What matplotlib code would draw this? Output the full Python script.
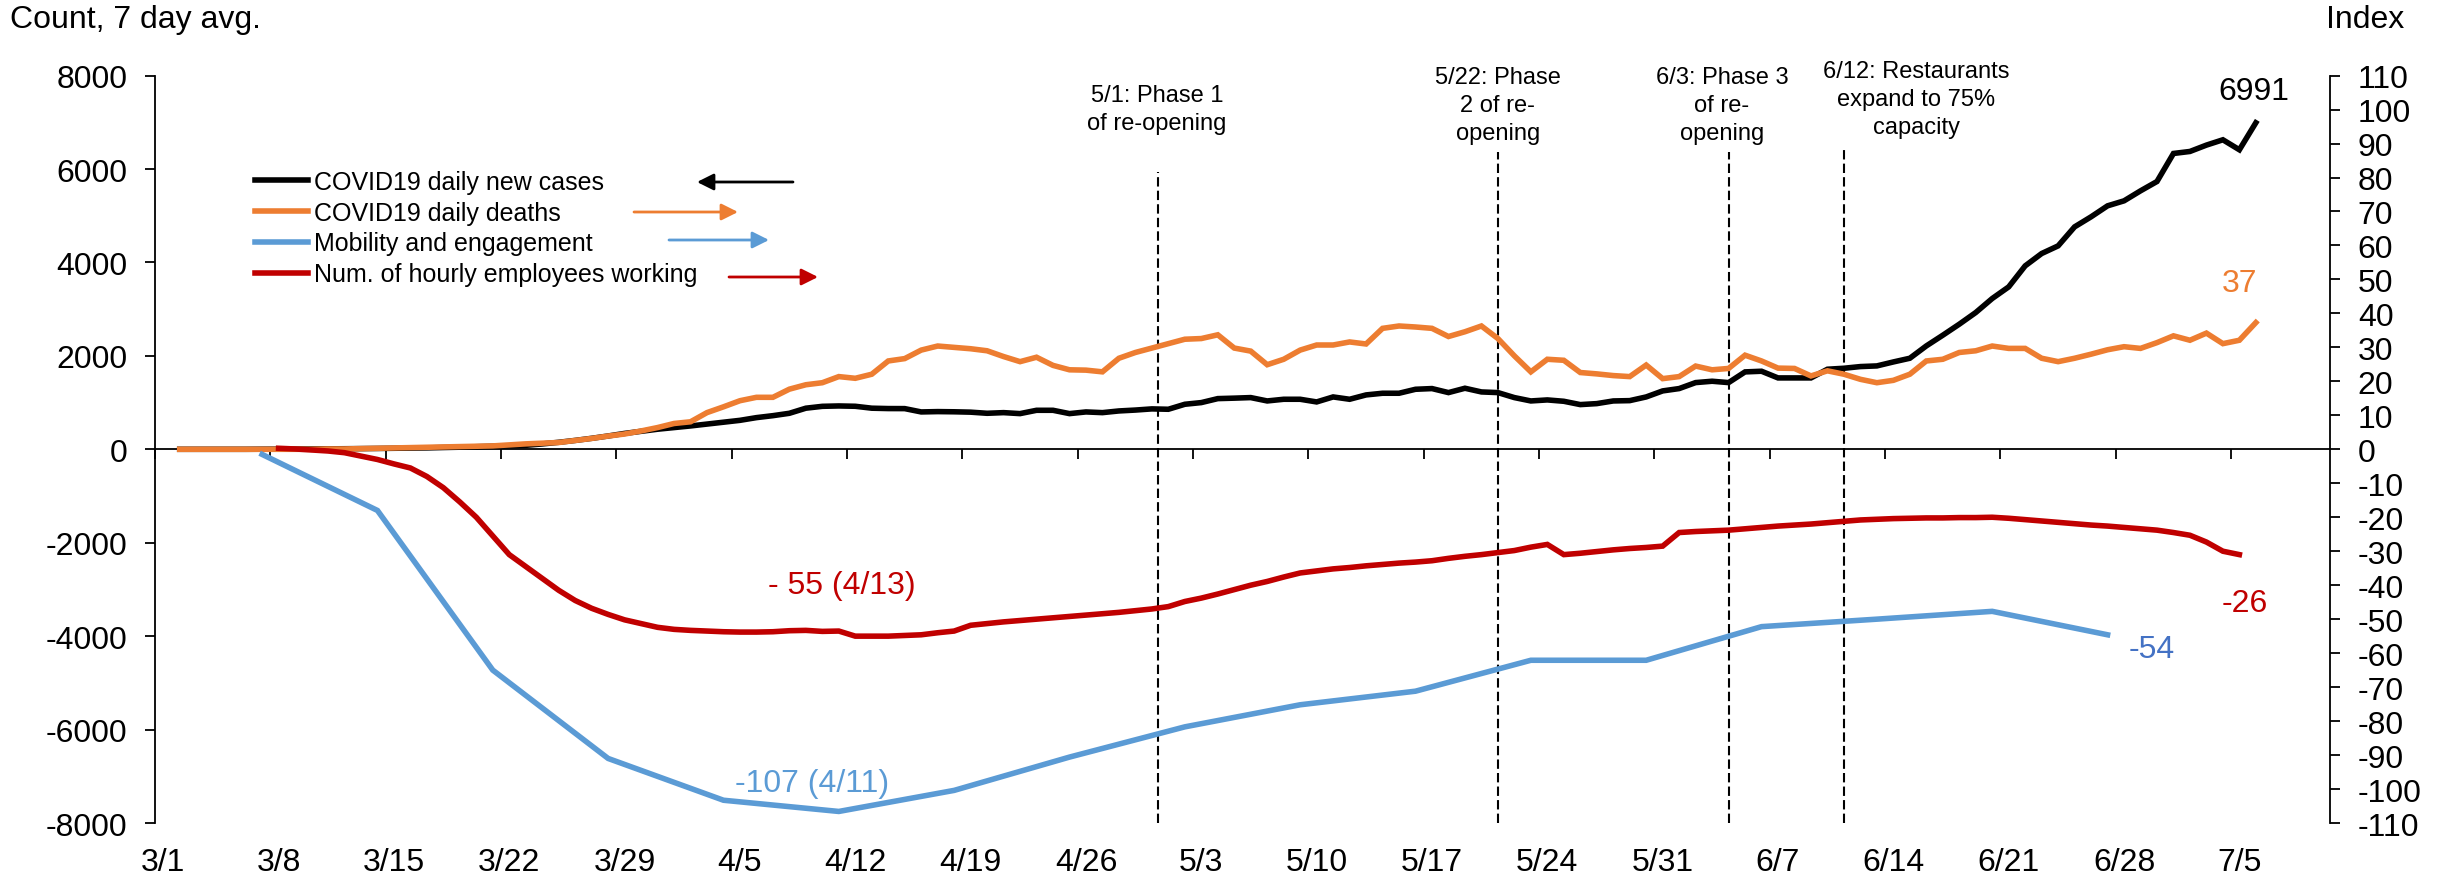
import numpy as np
import pandas as pd
import matplotlib
matplotlib.use("Agg")
import matplotlib.pyplot as plt

plt.rcParams["font.family"] = ["Liberation Sans", "DejaVu Sans"]
plt.rcParams["axes.unicode_minus"] = False

start = pd.Timestamp("2020-03-01")


def day(s):
    m, d = s.split("/")
    return (pd.Timestamp(2020, int(m), int(d)) - start).days


# COVID19 daily new cases, 7 day avg (left axis), daily from 3/2
cases_from = "3/2"
cases = [0, 0, 0, 0, 0, 2, 3, 5, 7, 10,
         12, 15, 18, 22, 26, 30, 38, 45, 55, 65,
         75, 85, 115, 150, 190, 235, 285, 340, 385, 430,
         465, 500, 540, 580, 620, 678, 720, 771, 880, 920,
         928, 921, 880, 872, 871, 800, 807, 803, 795, 771,
         785, 764, 835, 835, 764, 800, 785, 821, 840, 865,
         857, 964, 1000, 1085, 1095, 1107, 1035, 1071, 1071, 1014,
         1121, 1071, 1164, 1200, 1200, 1285, 1300, 1214, 1307, 1228,
         1214, 1107, 1035, 1057, 1028, 957, 978, 1035, 1042, 1121,
         1250, 1300, 1428, 1457, 1428, 1657, 1671, 1528, 1528, 1528,
         1714, 1735, 1771, 1785, 1870, 1949, 2213, 2442, 2678, 2928,
         3228, 3477, 3927, 4191, 4355, 4762, 4977, 5212, 5319, 5533,
         5733, 6333, 6376, 6512, 6626, 6412, 6991]

# COVID19 daily deaths (right axis), daily from 3/2
deaths_from = "3/2"
deaths = [0, 0, 0, 0, 0, 0, 0, 0, 0, 0.1,
          0.1, 0.2, 0.3, 0.4, 0.5, 0.6, 0.7, 0.8, 0.9, 1.0,
          1.3, 1.6, 1.8, 2.0, 2.6, 3.2, 3.9, 4.5, 5.4, 6.4,
          7.6, 8.1, 10.8, 12.5, 14.3, 15.3, 15.3, 17.7, 19.0, 19.6,
          21.4, 20.9, 22.1, 26.0, 26.7, 29.2, 30.4, 30.0, 29.6, 29.0,
          27.3, 25.8, 27.1, 24.7, 23.4, 23.3, 22.8, 26.8, 28.5, 29.8,
          31.1, 32.4, 32.6, 33.7, 29.8, 28.9, 24.9, 26.5, 29.2, 30.7,
          30.7, 31.6, 31.0, 35.6, 36.3, 36.0, 35.6, 33.2, 34.6, 36.3,
          32.6, 27.5, 22.8, 26.5, 26.2, 22.6, 22.2, 21.7, 21.4, 24.8,
          20.8, 21.4, 24.5, 23.4, 23.8, 27.7, 26.0, 23.9, 23.8, 21.6,
          23.1, 22.1, 20.6, 19.6, 20.3, 22.1, 26.0, 26.5, 28.5, 29.0,
          30.4, 29.7, 29.7, 26.8, 25.8, 26.8, 28.0, 29.3, 30.2, 29.7,
          31.4, 33.4, 32.1, 34.2, 31.1, 32.1, 37.3]

# Num. of hourly employees working (right axis), daily from 3/8
emp_from = "3/8"
employees = [0.3, 0.1, -0.2, -0.5, -1.0, -2.0, -3.0, -4.3, -5.5, -8.0,
             -11.3, -15.5, -20, -25.5, -31, -34.5, -38, -41.5, -44.5, -46.8,
             -48.6, -50.2, -51.3, -52.4, -53, -53.3, -53.5, -53.7, -53.8, -53.8,
             -53.7, -53.4, -53.3, -53.6, -53.5, -55, -55, -55, -54.8, -54.6,
             -54.0, -53.5, -51.8, -51.3, -50.8, -50.4, -50.0, -49.6, -49.2, -48.8,
             -48.4, -48.0, -47.5, -47.0, -46.3, -44.8, -43.8, -42.6, -41.3, -40.0,
             -38.9, -37.6, -36.4, -35.8, -35.2, -34.8, -34.3, -33.9, -33.5, -33.2,
             -32.8, -32.1, -31.5, -31.0, -30.4, -29.8, -28.8, -28.0, -31.0, -30.6,
             -30.1, -29.6, -29.2, -28.9, -28.5, -24.5, -24.2, -24.0, -23.8, -23.4,
             -23.0, -22.6, -22.3, -22.0, -21.6, -21.2, -20.8, -20.6, -20.4, -20.3,
             -20.2, -20.2, -20.1, -20.1, -20.0, -20.3, -20.7, -21.1, -21.5, -21.9,
             -22.3, -22.6, -23.0, -23.4, -23.8, -24.5, -25.3, -27.3, -30.0, -31.0]

# Mobility and engagement (right axis), weekly
mob_dates = ["3/7", "3/14", "3/21", "3/28", "4/4", "4/11", "4/18", "4/25", "5/2",
             "5/9", "5/16", "5/23", "5/30", "6/6", "6/13", "6/20", "6/27"]
mobility = [-1.5, -18, -65, -91, -103.3, -106.6, -100.4, -90.6, -81.7,
            -75.2, -71.2, -62.1, -62.1, -52.2, -50.0, -47.7, -54.6]

# re-opening events: line position on the day axis, top of dashed line (counts),
# note centre
event_x = [60.4, 81.0, 95.0, 102.0]
event_top = [5930, 6360, 6360, 6430]
event_text = ["5/1: Phase 1\nof re-opening",
              "5/22: Phase\n2 of re-\nopening",
              "6/3: Phase 3\nof re-\nopening",
              "6/12: Restaurants\nexpand to 75%\ncapacity"]
event_text_x = [60.3, 81.0, 94.6, 106.4]
event_text_y = [7283, 7369, 7369, 7497]

tick_dates = ["3/1", "3/8", "3/15", "3/22", "3/29", "4/5", "4/12", "4/19", "4/26",
              "5/3", "5/10", "5/17", "5/24", "5/31", "6/7", "6/14", "6/21", "6/28", "7/5"]

BLACK = "#000000"
ORANGE = "#ED7D31"
BLUE = "#5B9BD5"
RED = "#C00000"

W, H = 2448, 879
fig = plt.figure(figsize=(W / 100, H / 100), dpi=100)
ax = fig.add_axes([155 / W, 1 - 824 / H, (2330 - 155) / W, (824 - 76.6) / H])
ax2 = ax.twinx()

x_cases = day(cases_from) + np.arange(len(cases))
x_deaths = day(deaths_from) + np.arange(len(deaths))
x_emp = day(emp_from) + np.arange(len(employees))
x_mob = [day(s) for s in mob_dates]

lw = 4.0
l1, = ax.plot(x_cases, cases, color=BLACK, lw=lw, solid_joinstyle="miter")
l2, = ax2.plot(x_deaths, deaths, color=ORANGE, lw=lw, solid_joinstyle="miter")
l3, = ax2.plot(x_mob, mobility, color=BLUE, lw=lw, solid_joinstyle="miter")
l4, = ax2.plot(x_emp, employees, color=RED, lw=lw, solid_joinstyle="miter")

# event lines and notes
ax.vlines(event_x, -8000, event_top, colors="black", linestyles=(0, (4.5, 2)), lw=1.5)
for x, y, t in zip(event_text_x, event_text_y, event_text):
    ax.text(x, y, t, ha="center", va="center", fontsize=17, linespacing=1.37)

# axes limits / ticks
ax.set_xlim(-0.5, 131.5)
ax.set_ylim(-8000, 8000)
ax2.set_ylim(-110, 110)
ax.set_yticks(np.arange(-8000, 8001, 2000))
ax2.set_yticks(np.arange(-110, 111, 10))
ax.set_xticks([day(s) for s in tick_dates])
ax.set_xticklabels(tick_dates)
ax.tick_params(axis="x", length=0, pad=17, labelsize=23)
ax.tick_params(axis="y", direction="out", length=7, width=1.3, pad=13, labelsize=23)
ax2.tick_params(axis="y", direction="out", length=7, width=1.3, pad=13, labelsize=23)

for a in (ax, ax2):
    for s in ("top", "bottom"):
        a.spines[s].set_visible(False)
ax.spines["right"].set_visible(False)
ax2.spines["left"].set_visible(False)
ax.spines["left"].set_linewidth(1.3)
ax2.spines["right"].set_linewidth(1.3)

# zero line carrying the weekly tick marks
sec = ax.secondary_xaxis(0.5)
sec.set_alignment("bottom")
sec.set_xticks([day(s) - 0.5 for s in tick_dates])
sec.tick_params(axis="x", direction="out", length=7, width=1.3, labelbottom=False, labeltop=False)
sec.spines["bottom"].set_linewidth(1.3)

# value labels
ax.text(126.9, 7670, "6991", color=BLACK, fontsize=23, ha="center", va="center")
ax2.text(126.0, 48.9, "37", color=ORANGE, fontsize=23, ha="center", va="center")
ax2.text(126.3, -45.2, "-26", color=RED, fontsize=23, ha="center", va="center")
ax2.text(120.7, -58.7, "-54", color="#4472C4", fontsize=23, ha="center", va="center")
ax2.text(41.2, -40, "- 55 (4/13)", color=RED, fontsize=23, ha="center", va="center")
ax2.text(39.4, -98.2, "-107 (4/11)", color=BLUE, fontsize=23, ha="center", va="center")

fig.text(10 / W, 1 - 20 / H, "Count, 7 day avg.", fontsize=23, ha="left", va="center")
fig.text(2365 / W, 1 - 20 / H, "Index", fontsize=23, ha="center", va="center")

# legend
labels = ["COVID19 daily new cases", "COVID19 daily deaths",
          "Mobility and engagement", "Num. of hourly employees working"]
ax2.legend([l1, l2, l3, l4], labels, loc="upper left",
           bbox_to_anchor=(255 / W, 1 - 171 / H), bbox_transform=fig.transFigure,
           frameon=False, borderpad=0, borderaxespad=0, handlelength=2.1,
           handletextpad=0.25, labelspacing=0.27, fontsize=18)

# direction arrows next to legend entries (which axis each series uses)
arrows = [(793, 697, 183, BLACK), (634, 738, 213, ORANGE),
          (669, 769, 241, BLUE), (729, 818, 278, RED)]
for x0, x1, y, c in arrows:
    ax2.annotate("", xy=(x1 / W, 1 - y / H), xytext=(x0 / W, 1 - y / H),
                 xycoords="figure fraction", textcoords="figure fraction",
                 arrowprops=dict(arrowstyle="-|>", color=c, lw=2,
                                 mutation_scale=25, shrinkA=0, shrinkB=0))

fig.savefig("out.png", dpi=100)
